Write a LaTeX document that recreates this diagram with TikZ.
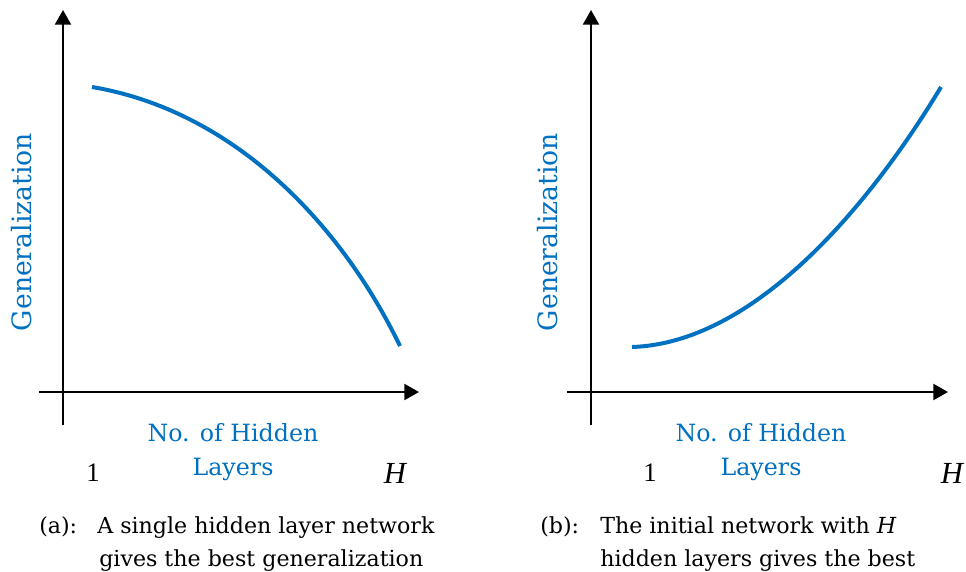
\documentclass[tikz,border=0pt]{standalone}
\usepackage{fontspec}
\setmainfont{Liberation Serif}
\newfontfamily\capfont{DejaVu Serif}
\usetikzlibrary{arrows.meta}
\definecolor{curveblue}{RGB}{0,112,192}
\tikzset{
  axis/.style={line width=1.6pt, -{Triangle[length=11pt,width=12pt]}},
  curve/.style={curveblue, line width=3pt},
  ylab/.style={curveblue, font=\capfont\fontsize{20}{24}\selectfont, rotate=90, inner sep=0pt},
  xlab/.style={curveblue, font=\capfont\fontsize{17.8}{26}\selectfont, align=center, inner sep=0pt},
  tick/.style={font=\fontsize{20}{24}\selectfont, inner sep=0pt, anchor=base},
  captext/.style={font=\capfont\fontsize{16.6}{24}\selectfont, inner sep=0pt, anchor=base west}
}
\begin{document}
\begin{tikzpicture}[x=0.75pt, y=-0.75pt]
\useasboundingbox (0,0) rectangle (966,571);

% ---- panel (a): generalization falls with depth
\coordinate (ay0) at (63,425);
\coordinate (ay1) at (63,10);
\coordinate (ax0) at (39,392);
\coordinate (ax1) at (419,392);
\draw[axis] (ay0) -- (ay1);
\draw[axis] (ax0) -- (ax1);
\coordinate (as) at (92,87);
\coordinate (ae) at (400,346);
\draw[curve] (as) .. controls (240,112) and (345,232) .. (ae);
\node[ylab] (agen) at (22,232) {Generalization};
\node[xlab] (ahid) at (233,452) {No. of Hidden\\Layers};
\node[tick] (aone) at (93,481) {1};
\node[tick, font=\itshape\fontsize{23}{26}\selectfont] (aH) at (395,483) {H};
\node[captext] (atag) at (39,533) {(a):};
\node[captext] (acap1) at (97,533) {A single hidden layer network};
\node[captext] (acap2) at (99,566) {gives the best generalization};

% ---- panel (b): generalization rises with depth
\coordinate (by0) at (591,425);
\coordinate (by1) at (591,10);
\coordinate (bx0) at (567,392);
\coordinate (bx1) at (948,392);
\draw[axis] (by0) -- (by1);
\draw[axis] (bx0) -- (bx1);
\coordinate (bs) at (632,347);
\coordinate (be) at (941,87);
\draw[curve] (bs) .. controls (755,343) and (870,205) .. (be);
\node[ylab] (bgen) at (548,232) {Generalization};
\node[xlab] (bhid) at (761,452) {No. of Hidden\\Layers};
\node[tick] (bone) at (650,481) {1};
\node[tick, font=\itshape\fontsize{23}{26}\selectfont] (bH) at (952,483) {H};
\node[captext] (btag) at (540,533) {(b):};
\node[captext] (bcap1) at (600,533) {The initial network with \textit{H}};
\node[captext] (bcap2) at (600,566) {hidden layers gives the best};
\end{tikzpicture}
\end{document}
